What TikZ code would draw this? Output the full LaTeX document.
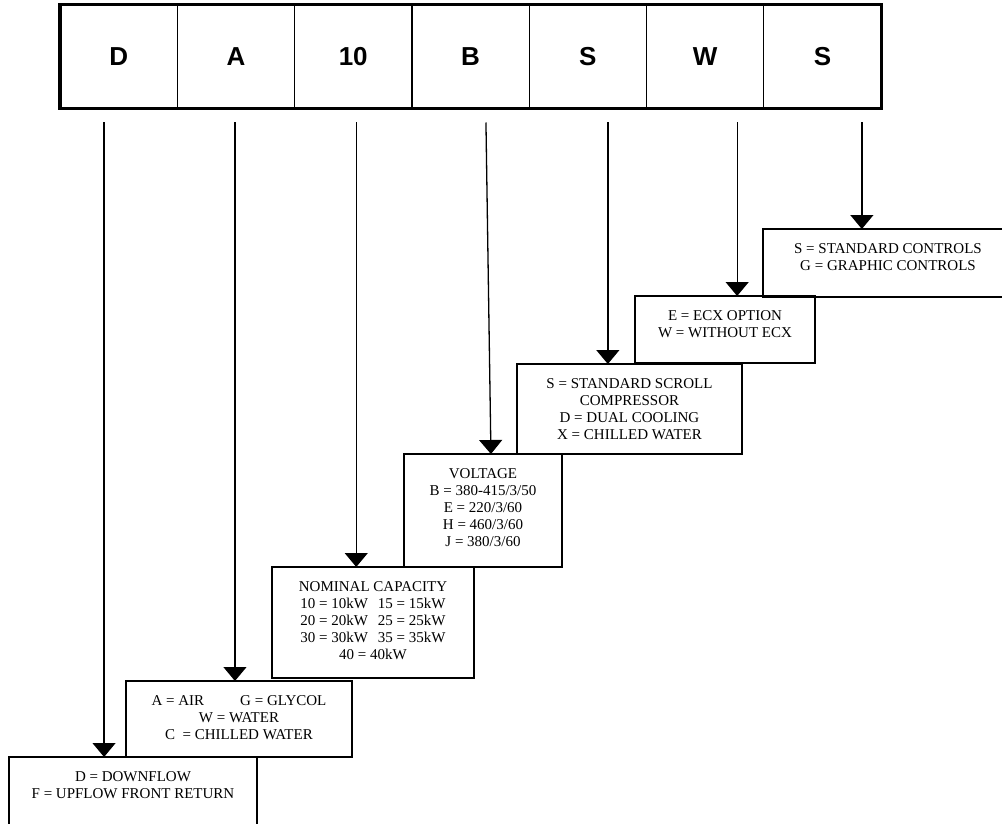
\documentclass[tikz,border=0pt]{standalone}
\usepackage{fontspec}
\setmainfont{Liberation Serif}
\newfontfamily\codefont{Liberation Sans}
\usetikzlibrary{arrows.meta, positioning, fit, calc}
\tikzset{codecell/.style={draw, line width=1.2pt, outer sep=0pt, minimum width=117.3pt, minimum height=104pt, font=\codefont\bfseries\fontsize{26}{30}\selectfont}}
\tikzset{optionbox/.style={draw, line width=1.6pt, anchor=north west, outer sep=0pt}}
\tikzset{optiontext/.style={align=center, anchor=north, inner sep=0pt, font=\fontsize{15}{17}\selectfont}}
\tikzset{pointer/.style={line width=1.3pt, -{Triangle[width=23pt, length=14pt]}}}

\begin{document}
\begin{tikzpicture}[x=1pt, y=-1pt]
\useasboundingbox (0,0) rectangle (1002,824);

% model code
\node[codecell] (cellD) at (118.65,56.5) {D};
\node[codecell, right=0pt of cellD] (cellA) {A};
\node[codecell, right=0pt of cellA] (cellCap) {10};
\node[codecell, right=0pt of cellCap] (cellB) {B};
\node[codecell, right=0pt of cellB] (cellS) {S};
\node[codecell, right=0pt of cellS] (cellW) {W};
\node[codecell, right=0pt of cellW] (cellCtrl) {S};
\node[draw, line width=3.2pt, inner sep=0pt, fit=(cellD) (cellCtrl)] (codebar) {};

% options
\node[optionbox, minimum width=248pt, minimum height=80pt] (flowbox) at (9,757) {};
\node[optiontext] (flowtext) at ([yshift=-14pt]flowbox.north) {D = DOWNFLOW\\F = UPFLOW FRONT RETURN};

\node[optionbox, minimum width=226pt, minimum height=76pt] (coolbox) at (126,681) {};
\node[optiontext] (cooltext) at ([yshift=-14pt]coolbox.north) {A = AIR\hspace{36pt}G = GLYCOL\\W = WATER\\C\ \ = CHILLED WATER};

\node[optionbox, minimum width=202pt, minimum height=111pt] (capbox) at (272,567) {};
\node[optiontext] (captext) at ([yshift=-14pt]capbox.north) {NOMINAL CAPACITY\\10 = 10kW\hspace{10pt}15 = 15kW\\20 = 20kW\hspace{10pt}25 = 25kW\\30 = 30kW\hspace{10pt}35 = 35kW\\40 = 40kW};

\node[optionbox, minimum width=158pt, minimum height=113pt] (voltbox) at (404,454) {};
\node[optiontext] (volttext) at ([yshift=-14pt]voltbox.north) {VOLTAGE\\B = 380-415/3/50\\E = 220/3/60\\H = 460/3/60\\J = 380/3/60};

\node[optionbox, minimum width=225pt, minimum height=90pt] (compbox) at (517,364) {};
\node[optiontext] (comptext) at ([yshift=-14pt]compbox.north) {S = STANDARD SCROLL\\COMPRESSOR\\D = DUAL COOLING\\X = CHILLED WATER};

\node[optionbox, minimum width=180pt, minimum height=67pt] (ecxbox) at (635,296) {};
\node[optiontext] (ecxtext) at ([yshift=-14pt]ecxbox.north) {E = ECX OPTION\\W = WITHOUT ECX};

\node[optionbox, minimum width=250pt, minimum height=68pt] (ctrlbox) at (763,229) {};
\node[optiontext] (ctrltext) at ([yshift=-14pt]ctrlbox.north) {S = STANDARD CONTROLS\\G = GRAPHIC CONTROLS};

% pointers
\draw[pointer] ([xshift=-14.6pt, yshift=-14pt]cellD.south) -- ([xshift=-14.6pt]cellD.south |- flowbox.north);
\draw[pointer] ([xshift=-1pt, yshift=-14pt]cellA.south) -- ([xshift=-1pt]cellA.south |- coolbox.north);
\draw[pointer] ([xshift=3pt, yshift=-14pt]cellCap.south) -- ([xshift=3pt]cellCap.south |- capbox.north);
\draw[pointer] ([xshift=15.4pt, yshift=-14pt]cellB.south) -- ([xshift=20.4pt]cellB.south |- voltbox.north);
\draw[pointer] ([xshift=20pt, yshift=-14pt]cellS.south) -- ([xshift=20pt]cellS.south |- compbox.north);
\draw[pointer] ([xshift=32pt, yshift=-14pt]cellW.south) -- ([xshift=32pt]cellW.south |- ecxbox.north);
\draw[pointer] ([xshift=39.4pt, yshift=-14pt]cellCtrl.south) -- ([xshift=39.4pt]cellCtrl.south |- ctrlbox.north);
\end{tikzpicture}
\end{document}
